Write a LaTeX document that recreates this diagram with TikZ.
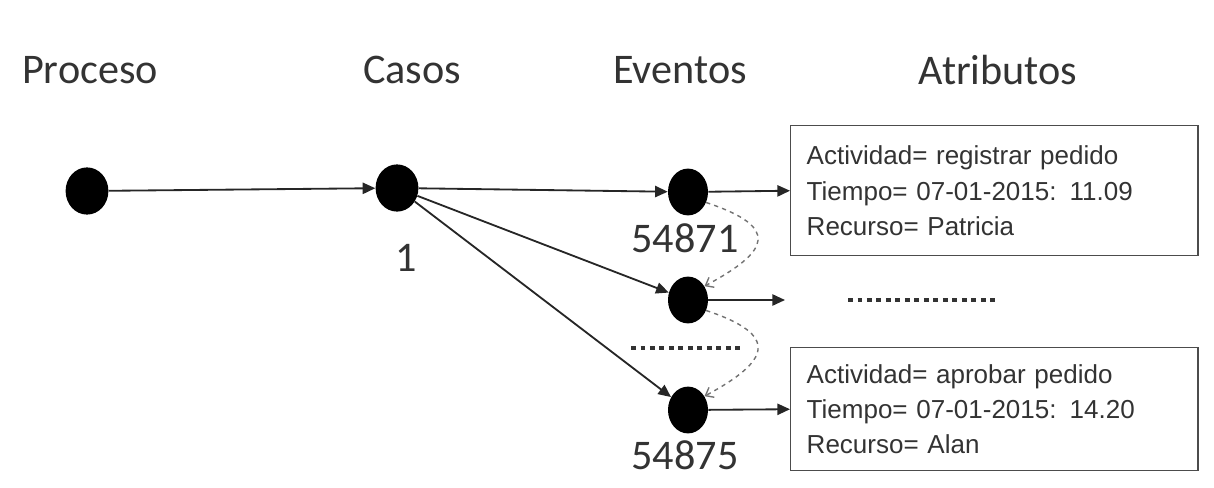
\documentclass[tikz,border=0pt]{standalone}
\usepackage{fontspec}
\setmainfont{Carlito}
\newfontfamily\attfont{Liberation Sans}
\usetikzlibrary{arrows.meta,positioning,shapes.geometric}

\begin{document}
\begin{tikzpicture}[
  x=0.025cm, y=-0.025cm,
  head/.style={text=black!80,font=\fontsize{30}{36}\selectfont},
  num/.style={text=black!80,font=\fontsize{30}{36}\selectfont},
  dot/.style={ellipse,fill=black,minimum width=1.07cm,minimum height=1.18cm,inner sep=0pt},
  evdot/.style={ellipse,fill=black,minimum width=1.0cm,minimum height=1.17cm,inner sep=0pt},
  attbox/.style={rectangle,draw=black!70,line width=1pt,anchor=north west,align=left,
    text width=9.375cm,inner xsep=0.4cm,minimum width=10.175cm,text=black!80,
    font=\attfont\fontsize{18.5}{25}\selectfont},
  arr/.style={-{Triangle[length=9pt,width=8pt]},line width=1.3pt,black!85},
  dasharr/.style={-{Straight Barb[length=5pt,width=8pt]},dashed,line width=1pt,black!55},
  dotrow/.style={line width=3.3pt,line cap=butt,dash pattern=on 3.3pt off 3.45pt,black!80}
]
\useasboundingbox (0,0) rectangle (1214,487);

% column titles
\node[head] (tproc) at (90,70) {Proceso};
\node[head] (tcas) at (412,70) {Casos};
\node[head] (tev) at (680,70) {Eventos};
\node[head] (tatr) at (998,70) {Atributos};

% process, case and events
\node[dot] (p) at (87,191) {};
\node[dot] (c1) at (397,188) {};
\node[num] (lc1) at (406,258) {1};
\node[evdot] (e1) at (688,192) {};
\node[num] (le1) at (685,238) {54871};
\node[evdot] (e2) at (688,300) {};
\node[evdot] (e3) at (688,410) {};
\node[num] (le3) at (685,455) {54875};

% attributes
\node[attbox,minimum height=3.25cm] (a1) at (790,125)
  {Actividad= registrar pedido\\Tiempo= 07-01-2015: 11.09\\Recurso= Patricia};
\node[attbox,minimum height=3.075cm] (a2) at (790,347)
  {Actividad= aprobar pedido\\Tiempo= 07-01-2015: 14.20\\Recurso= Alan};

\coordinate (e2end) at (785,300);
\coordinate (dl1) at (631,348);
\coordinate (dl2) at (740,348);
\coordinate (dr1) at (848,300);
\coordinate (dr2) at (996,300);

\draw[arr] (p) -- (c1);
\draw[arr] (c1) -- (e1);
\draw[arr] (c1) -- (e2);
\draw[arr] (c1) -- (e3);
\draw[arr] (e1) -- (a1.west);
\draw[arr] (e2) -- (e2end);
\draw[arr] (e3) -- (a2.west);

\draw[dasharr] (e1.-30) .. controls +(75,25) and +(65,-35) .. (e2.40);
\draw[dasharr] (e2.-30) .. controls +(75,25) and +(65,-35) .. (e3.40);

\draw[dotrow] (dl1) -- (dl2);
\draw[dotrow] (dr1) -- (dr2);
\end{tikzpicture}
\end{document}
